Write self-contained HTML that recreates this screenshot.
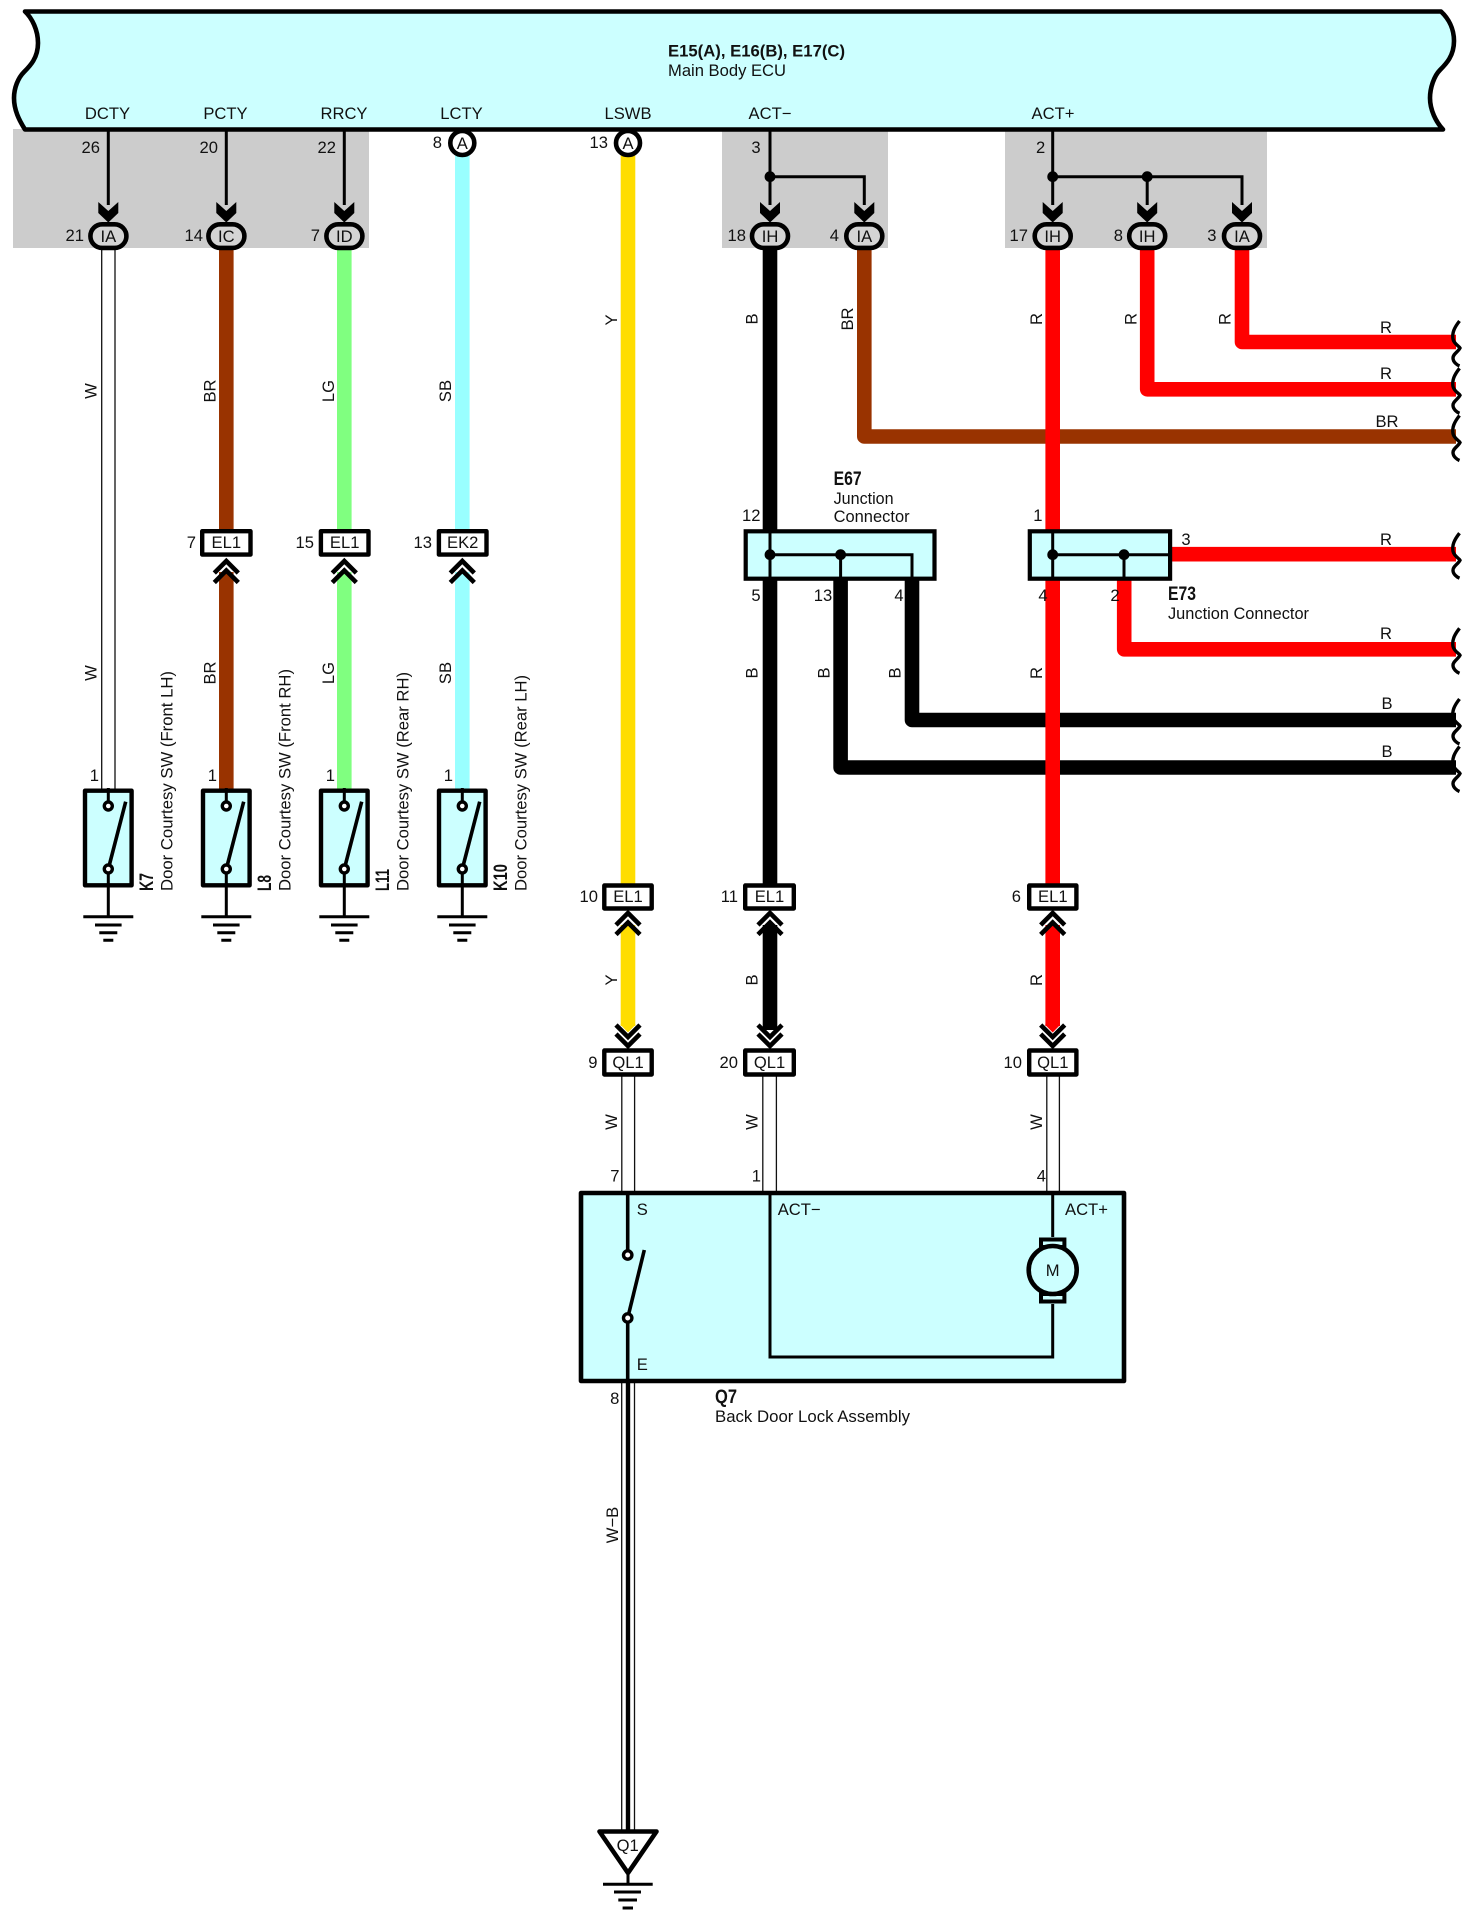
<!DOCTYPE html>
<html lang="en">
<head>
<meta charset="utf-8">
<title>Back Door Lock Wiring Diagram</title>
<style>
html,body{margin:0;padding:0;background:#fff;}
svg{display:block;}
text{font-family:"Liberation Sans",Arial,sans-serif;font-size:16.6px;fill:#111;}
.b{font-weight:bold;}
.big{font-size:19.5px;font-weight:bold;}
.m{text-anchor:middle;}
.e{text-anchor:end;}
.wh{fill:none;stroke-linejoin:round;stroke-width:14.6;}
.thin{fill:none;stroke:#000;stroke-width:3;}
.dl{stroke:#111;stroke-width:1.3;fill:none;}
</style>
</head>
<body>
<svg xmlns="http://www.w3.org/2000/svg" width="1476" height="1923" viewBox="0 0 1476 1923">
<defs>
  <g id="arrow"><path d="M-10,202 L0,211 L10,202 V213 L0,222.5 L-10,213 Z" fill="#000"/></g>
  <g id="up"><path d="M-12,573 L0,561 L12,573 M-12,582.5 L0,570.5 L12,582.5" fill="none" stroke="#000" stroke-width="4.6"/></g>
  <g id="up2"><path d="M-12,925 L0,913 L12,925 M-12,934.5 L0,922.5 L12,934.5" fill="none" stroke="#000" stroke-width="4.6"/></g>
  <g id="down"><path d="M-12,1025 L0,1037 L12,1025 M-12,1034 L0,1046 L12,1034" fill="none" stroke="#000" stroke-width="4.6"/></g>
  <g id="sw">
    <rect x="-23.3" y="790.7" width="46.6" height="94.6" fill="#ccffff" stroke="#000" stroke-width="4.4" stroke-linejoin="round"/>
    <path d="M0,788 V806 M0,869 V917" stroke="#000" stroke-width="3" fill="none"/>
    <path d="M0,869 L17.4,801.7" stroke="#000" stroke-width="3.6" fill="none"/>
    <circle cx="0" cy="806" r="4" fill="#fff" stroke="#000" stroke-width="3.4"/>
    <circle cx="0" cy="869" r="4" fill="#fff" stroke="#000" stroke-width="3.4"/>
    <path d="M-25,916.7 H25 M-13.3,925 H13.3 M-9,932.7 H9 M-5,940.3 H5" stroke="#000" stroke-width="3" fill="none"/>
  </g>
  <path id="sq" d="M1459.5,-21 C1454,-14 1452,-9 1453,-3 C1454,2 1459,4 1460,6 C1458,10 1453,12 1453,16 C1453,20 1457,23 1459.5,24" fill="none" stroke="#000" stroke-width="3.4"/>
</defs>

<!-- grey areas -->
<rect x="13" y="129" width="356" height="119" fill="#cccccc"/>
<rect x="722" y="129" width="166" height="119" fill="#cccccc"/>
<rect x="1005" y="129" width="262" height="119" fill="#cccccc"/>

<!-- ECU body -->
<path d="M25,11.5 H1441 C1448,18 1454,28 1454,41 C1454,56 1446,64 1440,70 C1434,76 1430,88 1430,98 C1430,110 1436,122 1443,129.5 H25 C19,120 14,110 14,98 C14,88 18,78 24,72 C30,66 38,58 38,43 C38,30 32,18 25,11.5 Z" fill="#ccffff" stroke="#000" stroke-width="4.6" stroke-linejoin="round"/>
<text class="b" x="668" y="56.5" textLength="177" lengthAdjust="spacingAndGlyphs">E15(A), E16(B), E17(C)</text>
<text x="668" y="76" textLength="118" lengthAdjust="spacingAndGlyphs">Main Body ECU</text>
<text class="m" x="107.5" y="119">DCTY</text>
<text class="m" x="225.5" y="119">PCTY</text>
<text class="m" x="344" y="119">RRCY</text>
<text class="m" x="461.5" y="119">LCTY</text>
<text class="m" x="628" y="119">LSWB</text>
<text class="m" x="770" y="119">ACT−</text>
<text class="m" x="1053" y="119">ACT+</text>

<!-- thin lines in grey areas -->
<path class="thin" d="M108.3,130 V205 M226.3,130 V205 M344.3,130 V205"/>
<path class="thin" d="M770,130 V205 M770,176.7 H864.3 V205 M1052.7,130 V205 M1052.7,176.7 H1242 V205 M1147.2,176.7 V205"/>
<circle cx="770" cy="176.7" r="5.4" fill="#000"/>
<circle cx="1052.7" cy="176.7" r="5.4" fill="#000"/>
<circle cx="1147.2" cy="176.7" r="5.4" fill="#000"/>
<use href="#arrow" x="108.3"/><use href="#arrow" x="226.3"/><use href="#arrow" x="344.3"/>
<use href="#arrow" x="770"/><use href="#arrow" x="864.3"/><use href="#arrow" x="1052.7"/><use href="#arrow" x="1147.2"/><use href="#arrow" x="1242"/>

<!-- pin numbers top -->
<text class="e" x="100" y="153">26</text>
<text class="e" x="218" y="153">20</text>
<text class="e" x="336" y="153">22</text>
<text class="e" x="442" y="148">8</text>
<text class="e" x="608" y="148">13</text>
<text class="m" x="756" y="153">3</text>
<text class="m" x="1040.6" y="153">2</text>
<text class="e" x="84" y="241">21</text>
<text class="e" x="203" y="241">14</text>
<text class="e" x="320" y="241">7</text>
<text class="e" x="746" y="241">18</text>
<text class="e" x="839" y="241">4</text>
<text class="e" x="1028" y="241">17</text>
<text class="e" x="1123" y="241">8</text>
<text class="e" x="1216.5" y="241">3</text>

<!-- coloured wires -->
<path class="wh" stroke="#993300" d="M226.3,250 V530"/>
<path class="wh" stroke="#993300" d="M226.3,572 V790"/>
<path class="wh" stroke="#80ff80" d="M344.3,250 V530"/>
<path class="wh" stroke="#80ff80" d="M344.3,572 V790"/>
<path class="wh" stroke="#99ffff" d="M462.3,155 V530"/>
<path class="wh" stroke="#99ffff" d="M462.3,572 V790"/>
<path class="wh" stroke="#ffdd00" d="M628,155 V885"/>
<path class="wh" stroke="#ffdd00" d="M628,925 V1026"/>
<path d="M620.7,1024 V1025 L628,1032.5 L635.3,1025 V1024 Z" fill="#ffdd00"/>
<path class="wh" stroke="#000" d="M770,250 V885"/>
<path class="wh" stroke="#000" d="M770,925 V1030"/>
<path class="wh" stroke="#993300" d="M864.3,250 V436.5 H1456"/>
<path class="wh" stroke="#000" d="M912,580 V720 H1456"/>
<path class="wh" stroke="#000" d="M840.6,580 V767.5 H1456"/>
<path class="wh" stroke="#ff0000" d="M1052.7,250 V885"/>
<path class="wh" stroke="#ff0000" d="M1052.7,925 V1026"/>
<path d="M1045.4,1024 V1025 L1052.7,1032.5 L1060,1025 V1024 Z" fill="#ff0000"/>
<path class="wh" stroke="#ff0000" d="M1147.2,250 V389.3 H1456"/>
<path class="wh" stroke="#ff0000" d="M1242,250 V342 H1456"/>
<path class="wh" stroke="#ff0000" d="M1172,554.2 H1456"/>
<path class="wh" stroke="#ff0000" d="M1124.2,580 V649.3 H1456"/>

<!-- W double wires -->
<path class="dl" d="M101.7,250 V790 M115,250 V790"/>
<path class="dl" d="M621.8,1076 V1192 M634.6,1076 V1192 M762.8,1076 V1192 M776.4,1076 V1192 M1046.8,1076 V1192 M1059.4,1076 V1192"/>
<path class="dl" d="M621.7,1383 V1832 M634.5,1383 V1832"/>
<path d="M628,1383 V1832" stroke="#000" stroke-width="4.4" fill="none"/>

<!-- wire ends -->
<use href="#sq" y="342"/><use href="#sq" y="389.3"/><use href="#sq" y="436.5"/>
<use href="#sq" y="554.2"/><use href="#sq" y="649.3"/><use href="#sq" y="720"/><use href="#sq" y="767.5"/>

<!-- oval connectors -->
<g fill="#d4d4d4" stroke="#000" stroke-width="4.6">
  <rect x="90.4" y="224.3" width="36" height="23.6" rx="11.8"/>
  <rect x="208.4" y="224.3" width="36" height="23.6" rx="11.8"/>
  <rect x="326.4" y="224.3" width="36" height="23.6" rx="11.8"/>
  <rect x="752" y="224.3" width="36" height="23.6" rx="11.8"/>
  <rect x="846.3" y="224.3" width="36" height="23.6" rx="11.8"/>
  <rect x="1034.7" y="224.3" width="36" height="23.6" rx="11.8"/>
  <rect x="1129.2" y="224.3" width="36" height="23.6" rx="11.8"/>
  <rect x="1224" y="224.3" width="36" height="23.6" rx="11.8"/>
</g>
<text class="m" x="108.3" y="242">IA</text>
<text class="m" x="226.3" y="242">IC</text>
<text class="m" x="344.3" y="242">ID</text>
<text class="m" x="770" y="242">IH</text>
<text class="m" x="864.3" y="242">IA</text>
<text class="m" x="1052.7" y="242">IH</text>
<text class="m" x="1147.2" y="242">IH</text>
<text class="m" x="1242" y="242">IA</text>

<!-- round connectors -->
<circle cx="462.3" cy="143" r="12" fill="#fff" stroke="#000" stroke-width="4.6"/>
<circle cx="628" cy="143" r="12" fill="#fff" stroke="#000" stroke-width="4.6"/>
<text class="m" x="462.3" y="149">A</text>
<text class="m" x="628" y="149">A</text>

<!-- rotated wire labels -->
<text class="m" transform="translate(96.5,391) rotate(-90)">W</text>
<text class="m" transform="translate(215.3,391) rotate(-90)">BR</text>
<text class="m" transform="translate(334,391) rotate(-90)">LG</text>
<text class="m" transform="translate(451,391) rotate(-90)">SB</text>
<text class="m" transform="translate(617,320) rotate(-90)">Y</text>
<text class="m" transform="translate(757.5,319) rotate(-90)">B</text>
<text class="m" transform="translate(853,319) rotate(-90)">BR</text>
<text class="m" transform="translate(1042,319) rotate(-90)">R</text>
<text class="m" transform="translate(1136.5,319) rotate(-90)">R</text>
<text class="m" transform="translate(1230.5,319) rotate(-90)">R</text>
<text class="m" transform="translate(96.5,673) rotate(-90)">W</text>
<text class="m" transform="translate(215.3,673) rotate(-90)">BR</text>
<text class="m" transform="translate(334,673) rotate(-90)">LG</text>
<text class="m" transform="translate(451,673) rotate(-90)">SB</text>
<text class="m" transform="translate(757.5,673) rotate(-90)">B</text>
<text class="m" transform="translate(829.5,673) rotate(-90)">B</text>
<text class="m" transform="translate(900.5,673) rotate(-90)">B</text>
<text class="m" transform="translate(1042,673) rotate(-90)">R</text>
<text class="m" transform="translate(617,980) rotate(-90)">Y</text>
<text class="m" transform="translate(757.5,980) rotate(-90)">B</text>
<text class="m" transform="translate(1042,980) rotate(-90)">R</text>
<text class="m" transform="translate(617,1122) rotate(-90)">W</text>
<text class="m" transform="translate(757.5,1122) rotate(-90)">W</text>
<text class="m" transform="translate(1042,1122) rotate(-90)">W</text>
<text class="m" transform="translate(618,1525) rotate(-90)">W−B</text>

<!-- horizontal wire labels -->
<text class="m" x="1386" y="333">R</text>
<text class="m" x="1386" y="379">R</text>
<text class="m" x="1387" y="427">BR</text>
<text class="m" x="1386" y="545">R</text>
<text class="m" x="1386" y="639">R</text>
<text class="m" x="1387" y="709">B</text>
<text class="m" x="1387" y="757">B</text>

<!-- EL/EK connectors -->
<g fill="#fff" stroke="#000" stroke-width="4.4" stroke-linejoin="round">
  <rect x="202.2" y="531.2" width="48.3" height="23.4"/>
  <rect x="320.9" y="531.2" width="47.6" height="23.4"/>
  <rect x="438.9" y="531.2" width="47.6" height="23.4"/>
  <rect x="604.3" y="885.5" width="47.4" height="23"/>
  <rect x="745.2" y="885.5" width="48.6" height="23"/>
  <rect x="1029.2" y="885.5" width="47.2" height="23"/>
  <rect x="604.3" y="1050.5" width="47.4" height="24"/>
  <rect x="745.2" y="1050.5" width="48.6" height="24"/>
  <rect x="1029.2" y="1050.5" width="47.2" height="24"/>
</g>
<text class="m" x="226.3" y="548">EL1</text>
<text class="m" x="344.7" y="548">EL1</text>
<text class="m" x="462.7" y="548">EK2</text>
<text class="m" x="628" y="902">EL1</text>
<text class="m" x="769.5" y="902">EL1</text>
<text class="m" x="1052.8" y="902">EL1</text>
<text class="m" x="628" y="1068">QL1</text>
<text class="m" x="769.5" y="1068">QL1</text>
<text class="m" x="1052.8" y="1068">QL1</text>
<text class="e" x="196" y="548">7</text>
<text class="e" x="314" y="548">15</text>
<text class="e" x="432" y="548">13</text>
<text class="e" x="598" y="902">10</text>
<text class="e" x="738" y="902">11</text>
<text class="e" x="1021" y="902">6</text>
<text class="e" x="597.5" y="1068">9</text>
<text class="e" x="738" y="1068">20</text>
<text class="e" x="1022" y="1068">10</text>

<!-- chevrons -->
<use href="#up" x="226.3"/><use href="#up" x="344.3"/><use href="#up" x="462.3"/>
<use href="#up2" x="628"/><use href="#up2" x="770"/><use href="#up2" x="1052.7"/>
<use href="#down" x="628"/><use href="#down" x="770"/><use href="#down" x="1052.7"/>

<!-- junction connectors -->
<rect x="745.7" y="531.3" width="188.8" height="47.4" fill="#ccffff" stroke="#000" stroke-width="4.2"/>
<path class="thin" d="M770,531 V579 M770,554.7 H912 V579 M840.6,554.7 V579"/>
<circle cx="770" cy="554.7" r="5.4" fill="#000"/>
<circle cx="840.6" cy="554.7" r="5.4" fill="#000"/>
<rect x="1029.8" y="531.3" width="140.3" height="47.4" fill="#ccffff" stroke="#000" stroke-width="4.2"/>
<path class="thin" d="M1052.7,531 V579 M1052.7,554.7 H1170 M1124,554.7 V579"/>
<circle cx="1052.7" cy="554.7" r="5.4" fill="#000"/>
<circle cx="1124" cy="554.7" r="5.4" fill="#000"/>
<text class="big" x="833.6" y="485" textLength="28" lengthAdjust="spacingAndGlyphs">E67</text>
<text x="833.6" y="504" textLength="60" lengthAdjust="spacingAndGlyphs">Junction</text>
<text x="833.6" y="522" textLength="76" lengthAdjust="spacingAndGlyphs">Connector</text>
<text class="big" x="1168" y="600" textLength="28" lengthAdjust="spacingAndGlyphs">E73</text>
<text x="1168" y="619" textLength="141" lengthAdjust="spacingAndGlyphs">Junction Connector</text>
<text class="e" x="760.5" y="521">12</text>
<text class="e" x="1042.5" y="521">1</text>
<text class="m" x="756" y="601">5</text>
<text class="m" x="823" y="601">13</text>
<text class="m" x="899" y="601">4</text>
<text class="m" x="1043" y="601">4</text>
<text class="m" x="1115" y="601">2</text>
<text class="m" x="1186" y="545">3</text>

<!-- switches -->
<use href="#sw" x="108.3"/><use href="#sw" x="226.3"/><use href="#sw" x="344.3"/><use href="#sw" x="462.3"/>
<text class="e" x="99" y="781">1</text>
<text class="e" x="217" y="781">1</text>
<text class="e" x="335" y="781">1</text>
<text class="e" x="453" y="781">1</text>
<text class="big" transform="translate(153,891) rotate(-90)" textLength="18" lengthAdjust="spacingAndGlyphs">K7</text>
<text class="big" transform="translate(271,891) rotate(-90)" textLength="16" lengthAdjust="spacingAndGlyphs">L8</text>
<text class="big" transform="translate(389,891) rotate(-90)" textLength="22" lengthAdjust="spacingAndGlyphs">L11</text>
<text class="big" transform="translate(507,891) rotate(-90)" textLength="27" lengthAdjust="spacingAndGlyphs">K10</text>
<text transform="translate(172.7,891) rotate(-90)" textLength="220" lengthAdjust="spacingAndGlyphs">Door Courtesy SW (Front LH)</text>
<text transform="translate(290.7,891) rotate(-90)" textLength="222" lengthAdjust="spacingAndGlyphs">Door Courtesy SW (Front RH)</text>
<text transform="translate(408.7,891) rotate(-90)" textLength="219" lengthAdjust="spacingAndGlyphs">Door Courtesy SW (Rear RH)</text>
<text transform="translate(526.7,891) rotate(-90)" textLength="216" lengthAdjust="spacingAndGlyphs">Door Courtesy SW (Rear LH)</text>

<!-- Q7 -->
<rect x="581" y="1193" width="543" height="188" fill="#ccffff" stroke="#000" stroke-width="4.6" stroke-linejoin="round"/>
<path d="M627.7,1193 V1255 M627.7,1318 V1383" stroke="#000" stroke-width="3.6" fill="none"/>
<path d="M627.7,1318 L644.3,1250" stroke="#000" stroke-width="3.6" fill="none"/>
<circle cx="627.7" cy="1255" r="4.2" fill="#fff" stroke="#000" stroke-width="3.4"/>
<circle cx="627.7" cy="1318" r="4.2" fill="#fff" stroke="#000" stroke-width="3.4"/>
<path class="thin" d="M770,1193 V1357 H1052.7 V1304 M1052.7,1193 V1237"/>
<rect x="1041" y="1239.5" width="23.4" height="7.5" fill="#ccffff" stroke="#000" stroke-width="4"/>
<rect x="1041" y="1294" width="23.4" height="7.5" fill="#ccffff" stroke="#000" stroke-width="4"/>
<circle cx="1052.7" cy="1270" r="24" fill="#ccffff" stroke="#000" stroke-width="4.6"/>
<text class="m" x="1052.7" y="1276">M</text>
<text x="636.7" y="1215">S</text>
<text x="636.7" y="1370">E</text>
<text x="777.7" y="1215">ACT−</text>
<text x="1065" y="1215">ACT+</text>
<text class="e" x="619.5" y="1181.5">7</text>
<text class="e" x="761" y="1181.5">1</text>
<text class="e" x="1046" y="1181.5">4</text>
<text class="e" x="619.3" y="1404">8</text>
<text class="big" x="715" y="1403" textLength="22" lengthAdjust="spacingAndGlyphs">Q7</text>
<text x="715" y="1422" textLength="195" lengthAdjust="spacingAndGlyphs">Back Door Lock Assembly</text>

<!-- Q1 ground -->
<path d="M599.5,1831.5 H656.5 L628,1873 Z" fill="#fff" stroke="#000" stroke-width="4.6" stroke-linejoin="round"/>
<text class="m" x="627.7" y="1851">Q1</text>
<path d="M628,1870 V1884 M603,1884.3 H652.7 M614,1892 H641 M618.3,1900 H637 M622.6,1908 H633" stroke="#000" stroke-width="3" fill="none"/>
</svg>
</body>
</html>
